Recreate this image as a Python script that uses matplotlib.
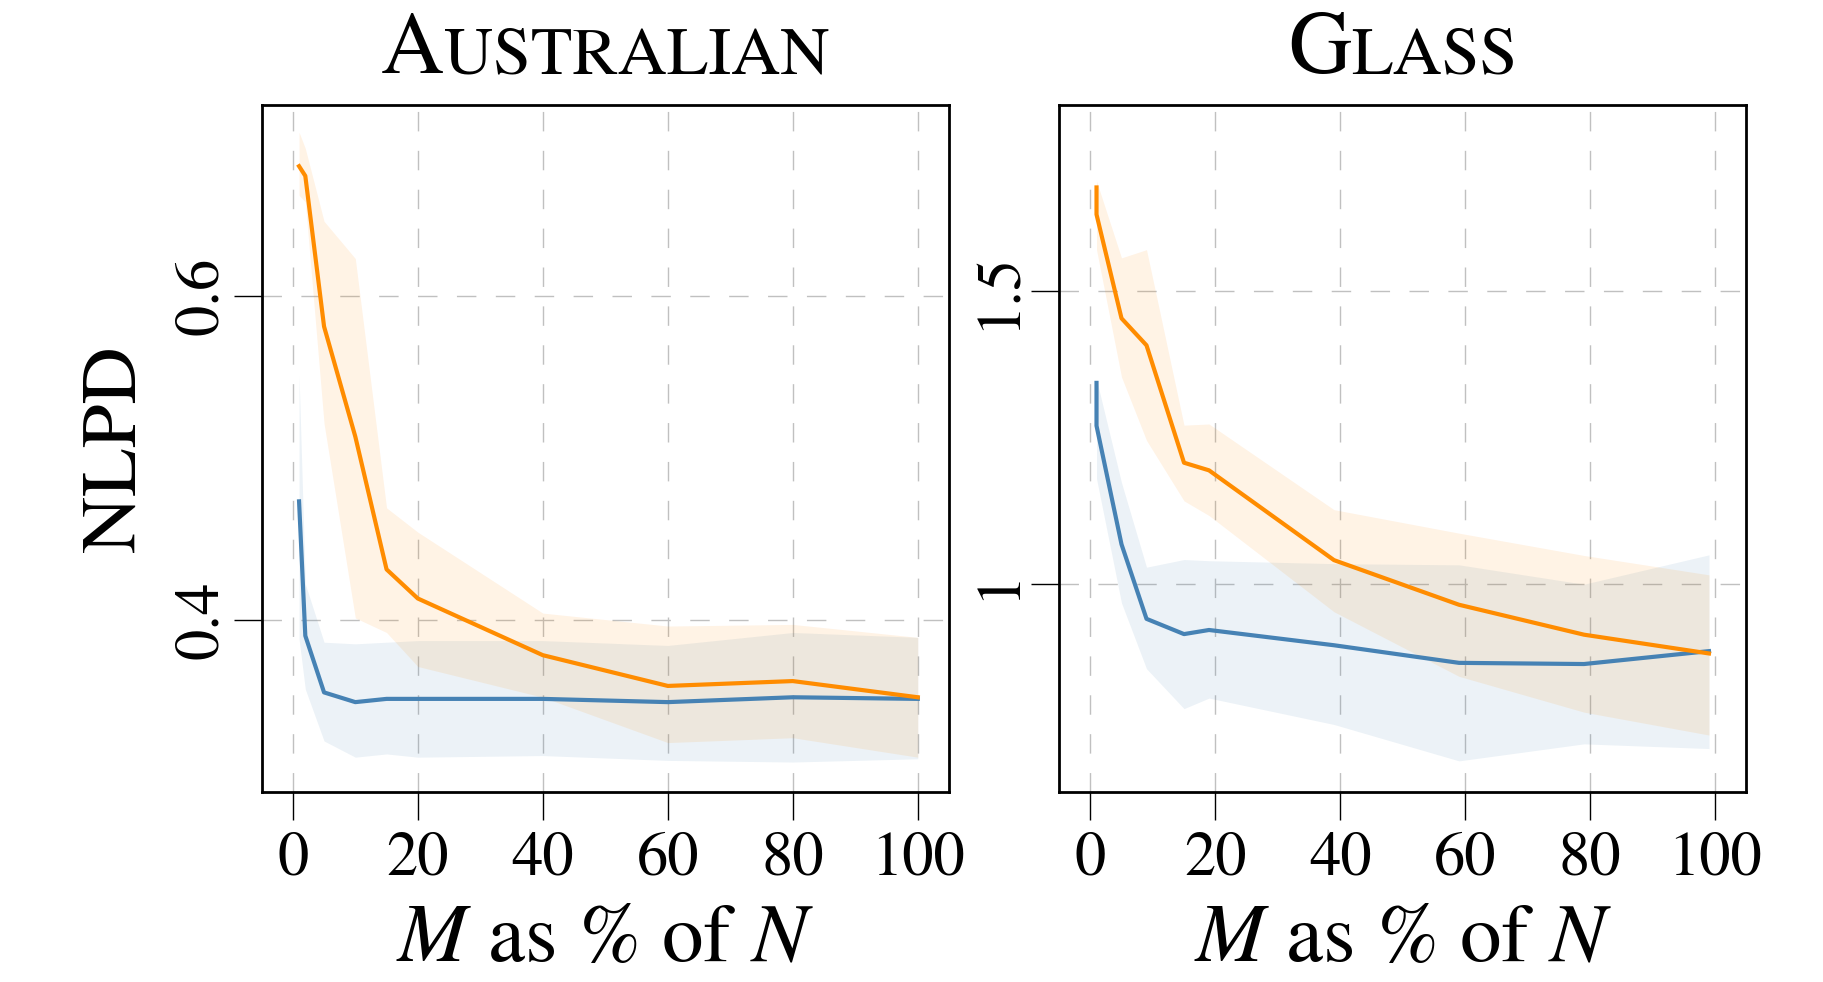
import numpy as np
import matplotlib
matplotlib.use('Agg')
from matplotlib import pyplot as plt
from matplotlib.offsetbox import TextArea, HPacker, AnnotationBbox

plt.rcParams['font.family'] = ['STIXGeneral', 'DejaVu Serif']
plt.rcParams['mathtext.fontset'] = 'stix'

# Australian
x_aus = [1, 2, 5, 10, 15, 20, 40, 60, 80, 100]
aus_orange = [0.680, 0.674, 0.581, 0.513, 0.431, 0.413, 0.378, 0.359, 0.362, 0.352]
aus_orange_hi = [0.701, 0.691, 0.646, 0.623, 0.469, 0.454, 0.404, 0.396, 0.397, 0.389]
aus_orange_lo = [0.662, 0.658, 0.521, 0.401, 0.392, 0.371, 0.352, 0.324, 0.327, 0.315]
aus_blue = [0.473, 0.390, 0.355, 0.349, 0.351, 0.351, 0.351, 0.349, 0.352, 0.351]
aus_blue_hi = [0.551, 0.422, 0.386, 0.385, 0.386, 0.387, 0.387, 0.384, 0.392, 0.389]
aus_blue_lo = [0.388, 0.357, 0.325, 0.315, 0.317, 0.315, 0.316, 0.313, 0.312, 0.314]

# Glass
x_gla = [1, 1, 5, 9, 15, 19, 39, 59, 79, 99]
gla_orange = [1.676, 1.630, 1.453, 1.407, 1.207, 1.194, 1.041, 0.965, 0.914, 0.882]
gla_orange_hi = [1.765, 1.687, 1.556, 1.570, 1.271, 1.273, 1.127, 1.087, 1.049, 1.016]
gla_orange_lo = [1.580, 1.570, 1.353, 1.245, 1.142, 1.117, 0.953, 0.843, 0.782, 0.743]
gla_blue = [1.343, 1.270, 1.068, 0.941, 0.915, 0.922, 0.896, 0.866, 0.864, 0.886]
gla_blue_hi = [1.499, 1.349, 1.173, 1.029, 1.042, 1.040, 1.035, 1.033, 1.000, 1.050]
gla_blue_lo = [1.190, 1.180, 0.968, 0.856, 0.788, 0.806, 0.761, 0.699, 0.728, 0.720]

orange = '#ff8c00'
blue = '#4682b4'

fig = plt.figure(figsize=(18.24, 9.82), dpi=100)
ax1 = fig.add_axes([0.1434, 0.1935, 0.3769, 0.6999])
ax2 = fig.add_axes([0.5806, 0.1935, 0.3769, 0.6999])

panels = [
    (ax1, x_aus, aus_blue, aus_blue_lo, aus_blue_hi, aus_orange, aus_orange_lo, aus_orange_hi,
     [0.4, 0.6], ['0.4', '0.6'], (0.2935, 0.718), 'A', 'USTRALIAN'),
    (ax2, x_gla, gla_blue, gla_blue_lo, gla_blue_hi, gla_orange, gla_orange_lo, gla_orange_hi,
     [1.0, 1.5], ['1', '1.5'], (0.646, 1.817), 'G', 'LASS'),
]

for ax, x, b, blo, bhi, o, olo, ohi, yt, ytl, ylim, big, small in panels:
    ax.fill_between(x, blo, bhi, color=blue, alpha=0.1, lw=0)
    ax.fill_between(x, olo, ohi, color=orange, alpha=0.1, lw=0)
    ax.plot(x, b, color=blue, lw=3.0)
    ax.plot(x, o, color=orange, lw=3.0)
    ax.set_xlim(-5, 105)
    ax.set_ylim(*ylim)
    ax.set_xticks([0, 20, 40, 60, 80, 100])
    ax.set_yticks(yt)
    ax.set_yticklabels(ytl)
    ax.grid(True, color='#c0c0c0', lw=1.0, ls=(0, (14, 14)))
    ax.set_axisbelow(True)
    for s in ax.spines.values():
        s.set_linewidth(2.0)
    ax.tick_params(axis='both', direction='out', length=20, width=1.0, labelsize=45)
    ax.tick_params(axis='x', pad=8)
    ax.tick_params(axis='y', labelrotation=90, pad=2)
    for lbl in ax.get_yticklabels():
        lbl.set_va('center')
    ax.set_xlabel(r'$M$ as % of $N$', fontsize=60, labelpad=12)
    # small caps title
    pack = HPacker(children=[TextArea(big, textprops=dict(size=63)),
                             TextArea(small, textprops=dict(size=49))],
                   align='baseline', pad=0, sep=0)
    ab = AnnotationBbox(pack, (0.5, 1.0), xycoords='axes fraction', xybox=(0, 9),
                        boxcoords='offset points', box_alignment=(0.5, 0), frameon=False)
    ax.add_artist(ab)

ax1.set_ylabel('NLPD', fontsize=57, labelpad=16)

fig.savefig('out.png', dpi=100)
